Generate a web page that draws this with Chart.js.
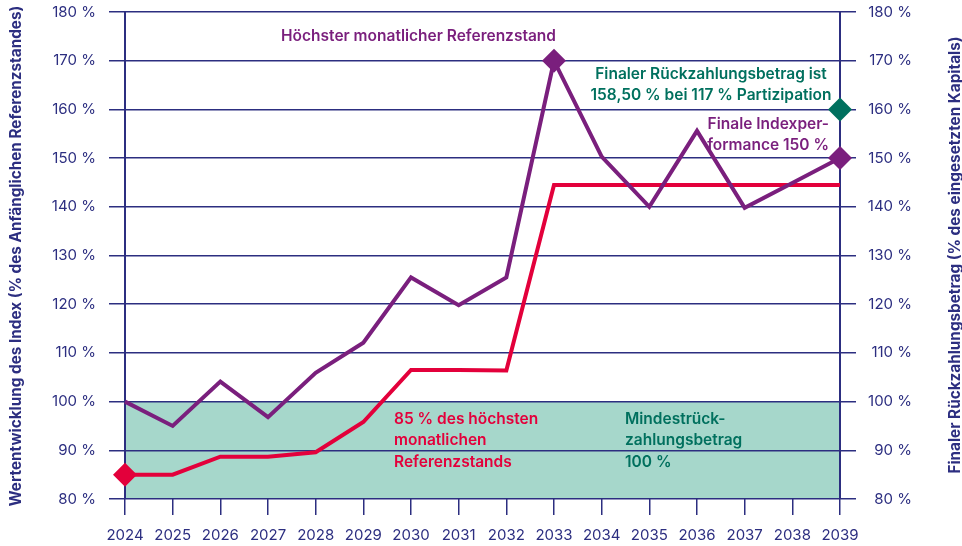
<!DOCTYPE html>
<html lang="de">
<head>
<meta charset="utf-8">
<title>Wertentwicklung</title>
<script src="https://cdn.jsdelivr.net/npm/chart.js@4.4.1/dist/chart.umd.min.js"></script>
<style>
  html, body { margin: 0; padding: 0; background: #ffffff; }
  #wrap { width: 962px; height: 546px; position: relative; }
</style>
</head>
<body>
<div id="wrap"><canvas id="chart"></canvas></div>
<script>
// data
const years = ["2024", "2025", "2026", "2027", "2028", "2029", "2030", "2031",
               "2032", "2033", "2034", "2035", "2036", "2037", "2038", "2039"];
const indexPerf = [100, 95, 104.1, 96.8, 105.9, 112.1, 125.5, 119.8,
                   125.5, 170, 150.3, 140, 155.6, 139.8, 144.9, 150];
const lockIn85 = [85, 85, 88.7, 88.7, 89.6, 95.8, 106.5, 106.5,
                  106.4, 144.5, 144.5, 144.5, 144.5, 144.5, 144.5, 144.5];
const minRepayment = [100, 100, 100, 100, 100, 100, 100, 100,
                      100, 100, 100, 100, 100, 100, 100, 100];
const finalRepayment = [null, null, null, null, null, null, null, null,
                        null, null, null, null, null, null, null, 160];
const yTicks = [80, 90, 100, 110, 120, 130, 140, 150, 160, 170, 180];

const navy = "#2c2e80";
const purple = "#7a1f7d";
const red = "#e3003b";
const green = "#00705e";
const teal = "#a6d7cb";
const FONT = "Inter, 'Noto Sans', sans-serif";

// only the highest level, the final level and the start get a diamond
const purpleRadius = indexPerf.map((v, i) => (i === 9 || i === 15) ? 12 : 0);
const redRadius = lockIn85.map((v, i) => i === 0 ? 12 : 0);

const leftTitle = "Wertentwicklung des Index (% des Anfänglichen Referenzstandes)";
const rightTitle = "Finaler Rückzahlungsbetrag (% des eingesetzten Kapitals)";

const notes = [
  { lines: ["Höchster monatlicher Referenzstand"], x: 556, y: 36, align: "right", color: purple },
  { lines: ["Finaler Rückzahlungsbetrag ist", "158,50 % bei 117 % Partizipation"], x: 711, y: 74, align: "center", color: green },
  { lines: ["Finale Indexper-", "formance 150 %"], x: 829, y: 124, align: "right", color: purple },
  { lines: ["85 % des höchsten", "monatlichen", "Referenzstands"], x: 394, y: 419, align: "left", color: red },
  { lines: ["Mindestrück-", "zahlungsbetrag", "100 %"], x: 625, y: 419, align: "left", color: green }
];

const textPlugin = {
    id: "texts",
    afterDraw(chart) {
        const ctx = chart.ctx;
        ctx.save();
        ctx.fillStyle = navy;
        ctx.font = "bold 15.3px " + FONT;
        ctx.textAlign = "center";
        ctx.textBaseline = "middle";

        // axis titles, both read bottom to top
        ctx.save();
        ctx.translate(16, 256);
        ctx.rotate(-Math.PI / 2);
        ctx.fillText(leftTitle, 0, 0);
        ctx.restore();

        ctx.save();
        ctx.translate(955, 255);
        ctx.rotate(-Math.PI / 2);
        ctx.fillText(rightTitle, 0, 0);
        ctx.restore();

        // annotations
        ctx.font = "600 15.5px " + FONT;
        notes.forEach(n => {
            ctx.fillStyle = n.color;
            ctx.textAlign = n.align;
            n.lines.forEach((line, i) => {
                ctx.fillText(line, n.x, n.y + i * 21.5);
            });
        });
        ctx.restore();
    }
};

const tickFont = { family: FONT, size: 15, weight: "normal" };

new Chart(document.getElementById("chart"), {
    type: "line",
    data: {
        labels: years,
        datasets: [
            {
                label: "Finaler Rückzahlungsbetrag",
                data: finalRepayment,
                yAxisID: "y2",
                showLine: false,
                pointStyle: "rectRot",
                pointRadius: 12,
                pointBorderWidth: 0,
                pointBackgroundColor: green,
                borderColor: green
            },
            {
                label: "Höchster monatlicher Referenzstand",
                data: indexPerf,
                borderColor: purple,
                borderWidth: 4,
                pointStyle: "rectRot",
                pointRadius: purpleRadius,
                pointBorderWidth: 0,
                pointBackgroundColor: purple,
                tension: 0
            },
            {
                label: "85 % des höchsten monatlichen Referenzstands",
                data: lockIn85,
                borderColor: red,
                borderWidth: 4,
                pointStyle: "rectRot",
                pointRadius: redRadius,
                pointBorderWidth: 0,
                pointBackgroundColor: red,
                tension: 0
            },
            {
                label: "Mindestrückzahlungsbetrag",
                data: minRepayment,
                borderWidth: 0,
                pointRadius: 0,
                backgroundColor: teal,
                fill: "start"
            }
        ]
    },
    options: {
        responsive: true,
        maintainAspectRatio: false,
        animation: false,
        layout: {
            autoPadding: false,
            padding: { top: 12, right: 50, left: 0, bottom: 0 }
        },
        plugins: {
            legend: { display: false },
            tooltip: { enabled: false },
            filler: { drawTime: "beforeDraw" }
        },
        scales: {
            x: {
                offset: false,
                grid: {
                    drawOnChartArea: false,
                    drawTicks: true,
                    tickLength: 16,
                    color: navy,
                    lineWidth: 1.5
                },
                border: { display: false },
                ticks: {
                    color: navy,
                    font: tickFont,
                    padding: 11,
                    maxRotation: 0,
                    autoSkip: false
                },
                afterFit(scale) { scale.height = 47; }
            },
            y: {
                position: "left",
                min: 80,
                max: 180,
                afterBuildTicks(scale) { scale.ticks = yTicks.map(v => ({ value: v })); },
                grid: { color: navy, lineWidth: 1.5, tickLength: 16 },
                border: { color: navy, width: 2 },
                ticks: {
                    color: navy,
                    font: tickFont,
                    padding: 13,
                    callback: v => v + " %"
                },
                afterFit(scale) {
                    scale.width = 125;
                    scale.paddingTop = 0;
                    scale.paddingBottom = 0;
                }
            },
            y2: {
                position: "right",
                min: 80,
                max: 180,
                afterBuildTicks(scale) { scale.ticks = yTicks.map(v => ({ value: v })); },
                grid: { drawOnChartArea: false, color: navy, lineWidth: 1.5, tickLength: 16 },
                border: { color: navy, width: 2 },
                ticks: {
                    color: navy,
                    font: tickFont,
                    crossAlign: "far",
                    callback: v => v + " %"
                },
                afterFit(scale) {
                    scale.width = 72;
                    scale.paddingTop = 0;
                    scale.paddingBottom = 0;
                }
            }
        }
    },
    plugins: [textPlugin]
});
</script>
</body>
</html>
